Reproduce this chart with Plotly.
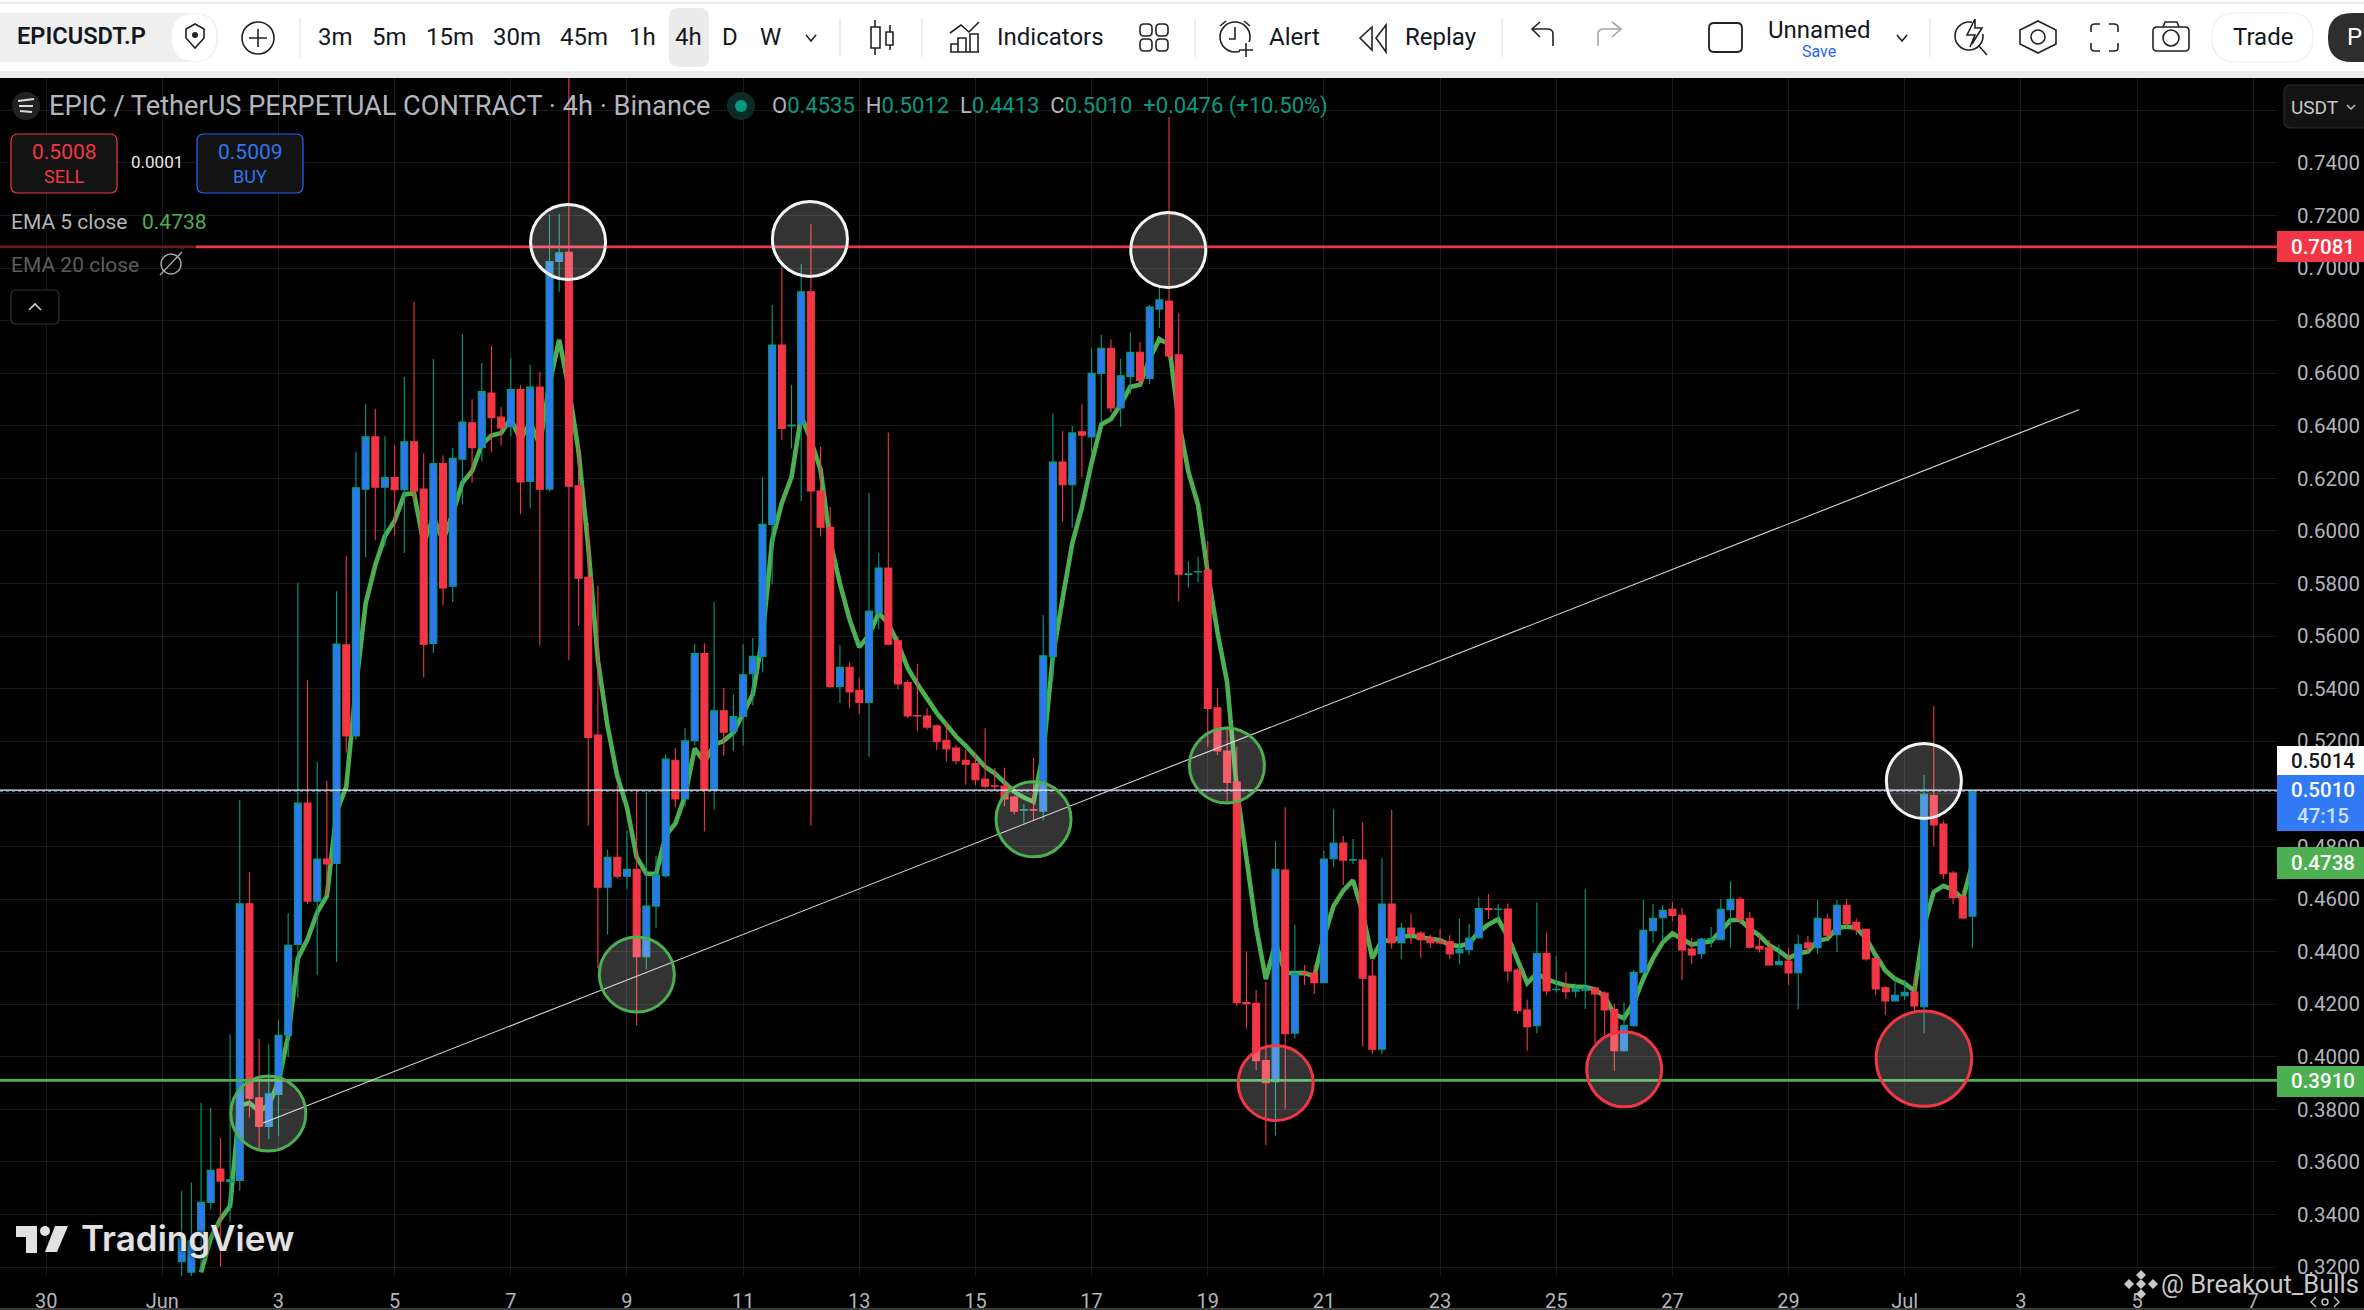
import pandas as pd
import plotly.graph_objects as go

# chart values
open_prices = [
    .322, .318, .333, .3446, .3573, .3525, .3529, .4582, .3844, .3735,
    .3857, .4082, .4427, .4965, .4592, .4752, .4735, .5567, .5220, .6159,
    .6358, .6166, .6203, .6157, .6339, .6159, .5572, .6256, .5790, .6273,
    .6411, .6317, .6525, .6433, .6397, .6538, .6188, .6547, .6159, .7025,
    .7060, .6172, .5824, .5224, .4645, .4759, .4687, .4713, .4381, .4573,
    .4689, .5128, .4981, .5202, .5534, .5016, .5316, .5237, .5294, .5457,
    .5523, .6025, .6707, .6399, .6407, .6910, .6152, .6014, .5409, .5481,
    .5394, .5348, .5689, .5859, .5582, .5423, .5298, .5296, .5259, .5204,
    .5174, .5128, .5115, .5056, .5031, .5030, .4988, .4938, .4940, .4934,
    .5522, .6262, .6176, .6377, .6358, .6599, .6695, .6468, .6588, .6680,
    .6580, .6844, .6875, .6670, .5835, .5844, .5851, .5327, .5163, .5045,
    .4206, .4203, .3986, .3905, .4710, .4090, .4320, .4317, .4282, .4753,
    .4813, .4748, .4748, .4307, .4029, .4581, .4434, .4490, .4471, .4452,
    .4438, .4438, .4396, .4407, .4453, .4564, .4560, .4562, .4330, .4178,
    .4118, .4393, .4255, .4261, .4249, .4253, .4261, .4242, .4180, .4023,
    .4118, .4321, .4479, .4529, .4561, .4538, .4410, .4392, .4448, .4445,
    .4559, .4599, .4527, .4420, .4414, .4350, .4364, .4320, .4433, .4415,
    .4524, .4464, .4576, .4511, .4485, .4374, .4262, .4212, .4232, .4246,
    .4190, .4994, .4885, .4699, .4608, .4535,
]
high_prices = [
    .3489, .3522, .3825, .3806, .3692, .4087, .4977, .4703, .4068, .4048,
    .4140, .4546, .5802, .5434, .5121, .5050, .5771, .5904, .6300, .6484,
    .6465, .6360, .6326, .6586, .6872, .6295, .6654, .6288, .6317, .6749,
    .6501, .6639, .6705, .6472, .6659, .6555, .6632, .6606, .7205, .7207,
    .7800, .6331, .6030, .5792, .4787, .5032, .4861, .5014, .5010, .4765,
    .5152, .5174, .5250, .5571, .5573, .5730, .5403, .5377, .5569, .5593,
    .6204, .6860, .7001, .6556, .7015, .7167, .6320, .6091, .5567, .5501,
    .5442, .6145, .5916, .6375, .5599, .5434, .5495, .5326, .5263, .5276,
    .5185, .5167, .5152, .5250, .5097, .5099, .4994, .4961, .5136, .5680,
    .6446, .6380, .6400, .6482, .6695, .6746, .6728, .6655, .6755, .6719,
    .6860, .6932, .7575, .6828, .5885, .5902, .5962, .5403, .5258, .5179,
    .4400, .4254, .4286, .4821, .4949, .4501, .4349, .4349, .4783, .4941,
    .4840, .4828, .4893, .4368, .4756, .4939, .4510, .4543, .4476, .4463,
    .4486, .4463, .4526, .4505, .4606, .4619, .4581, .4584, .4336, .4218,
    .4587, .4473, .4383, .4321, .4279, .4638, .4261, .4249, .4203, .4206,
    .4330, .4596, .4581, .4577, .4589, .4565, .4453, .4454, .4494, .4600,
    .4668, .4609, .4551, .4463, .4444, .4425, .4415, .4463, .4459, .4596,
    .4543, .4596, .4600, .4526, .4487, .4376, .4269, .4307, .4292, .4307,
    .5072, .5334, .4899, .4707, .4634, .5012,
]
low_prices = [
    .314, .314, .318, .3419, .3201, .3372, .3490, .3769, .3650, .3687,
    .3699, .3999, .4223, .4582, .4310, .4613, .4359, .5157, .5208, .5900,
    .5965, .5941, .5984, .5916, .6118, .5443, .5536, .5717, .5730, .6101,
    .6183, .6264, .6300, .6324, .6360, .6064, .6086, .5564, .6150, .6910,
    .5508, .5639, .4879, .4337, .4464, .4678, .4639, .4119, .4333, .4490,
    .4682, .4949, .4955, .5184, .4857, .4940, .5145, .5163, .5184, .5337,
    .5462, .5796, .6346, .6314, .6113, .4879, .5979, .5403, .5346, .5326,
    .5305, .5141, .5626, .5565, .5398, .5289, .5239, .5244, .5167, .5123,
    .5112, .5036, .5032, .5021, .5014, .4952, .4921, .4888, .4897, .4899,
    .5430, .6036, .6013, .6204, .6295, .6413, .6450, .6395, .6522, .6559,
    .6559, .6772, .6650, .5731, .5785, .5804, .5179, .5148, .4970, .4193,
    .4107, .3949, .3664, .3700, .3802, .4069, .4273, .4239, .4279, .4723,
    .4653, .4733, .4041, .4010, .4010, .4410, .4372, .4429, .4377, .4414,
    .4427, .4372, .4351, .4388, .4450, .4524, .4520, .4286, .4163, .4023,
    .4088, .4235, .4244, .4220, .4225, .4182, .4051, .4083, .3946, .4019,
    .4114, .4317, .4434, .4438, .4514, .4292, .4353, .4372, .4416, .4444,
    .4415, .4505, .4412, .4397, .4349, .4349, .4273, .4182, .4396, .4391,
    .4449, .4398, .4490, .4463, .4365, .4235, .4159, .4209, .4216, .4171,
    .4089, .4802, .4676, .4581, .4524, .4413,
]
close_prices = [
    .331, .330, .3446, .3568, .3527, .3532, .4582, .3842, .3735, .3859,
    .4082, .4424, .4965, .4592, .4752, .4733, .5570, .5220, .6164, .6358,
    .6166, .6203, .6157, .6339, .6152, .5569, .6256, .5783, .6276, .6414,
    .6317, .6530, .6431, .6392, .6538, .6186, .6547, .6159, .7025, .7058,
    .6170, .5820, .5215, .4645, .4759, .4687, .4713, .4381, .4573, .4691,
    .5132, .4981, .5202, .5534, .5016, .5316, .5235, .5294, .5453, .5523,
    .6025, .6707, .6390, .6403, .6910, .6152, .6014, .5409, .5481, .5388,
    .5348, .5695, .5859, .5569, .5418, .5296, .5296, .5254, .5198, .5171,
    .5126, .5113, .5054, .5029, .5029, .4981, .4934, .4940, .4938, .5525,
    .6262, .6176, .6373, .6364, .6600, .6695, .6468, .6590, .6680, .6573,
    .6852, .6879, .6666, .5836, .5837, .5846, .5325, .5163, .5043, .4206,
    .4202, .3985, .3901, .4713, .4088, .4317, .4318, .4282, .4752, .4813,
    .4748, .4750, .4299, .4029, .4581, .4434, .4490, .4468, .4445, .4434,
    .4433, .4391, .4409, .4451, .4564, .4560, .4562, .4326, .4175, .4114,
    .4393, .4250, .4257, .4247, .4259, .4261, .4239, .4178, .4023, .4119,
    .4321, .4481, .4527, .4557, .4537, .4406, .4387, .4448, .4450, .4561,
    .4599, .4524, .4417, .4410, .4349, .4362, .4319, .4428, .4414, .4527,
    .4462, .4576, .4507, .4483, .4372, .4258, .4212, .4234, .4245, .4193,
    .4998, .4882, .4696, .4605, .4528, .5010,
]
# first two bars are hidden under the logo, the line starts at the third one
ema_values = [
    None, None, .318, .3309, .3382, .3432, .3815, .3824, .3794, .3816,
    .3905, .4078, .4374, .4447, .4549, .4611, .4931, .5027, .5406, .5723,
    .5870, .5981, .6039, .6139, .6144, .5952, .6053, .5963, .6067, .6183,
    .6228, .6329, .6363, .6373, .6428, .6347, .6413, .6328, .6561, .6727,
    .6542, .6301, .5939, .5507, .5257, .5067, .4949, .4759, .4697, .4695,
    .4841, .4887, .4992, .5173, .5121, .5186, .5202, .5233, .5307, .5379,
    .5594, .5965, .6107, .6205, .6440, .6344, .6234, .5959, .5800, .5663,
    .5558, .5603, .5688, .5648, .5571, .5479, .5418, .5363, .5308, .5263,
    .5218, .5183, .5140, .5103, .5078, .5045, .5008, .4986, .4970, .5155,
    .5524, .5742, .5952, .6089, .6259, .6405, .6426, .6481, .6548, .6556,
    .6655, .6730, .6709, .6418, .6225, .6099, .5841, .5615, .5424, .5018,
    .4746, .4492, .4295, .4434, .4319, .4318, .4318, .4306, .4455, .4574,
    .4632, .4671, .4547, .4374, .4443, .4440, .4457, .4460, .4455, .4448,
    .4443, .4426, .4421, .4431, .4475, .4503, .4523, .4457, .4363, .4280,
    .4317, .4295, .4282, .4271, .4267, .4265, .4256, .4230, .4161, .4147,
    .4205, .4297, .4374, .4435, .4469, .4448, .4427, .4434, .4439, .4479,
    .4519, .4521, .4486, .4461, .4424, .4403, .4375, .4393, .4400, .4442,
    .4448, .4490, .4495, .4491, .4451, .4386, .4328, .4296, .4279, .4251,
    .4500, .4627, .4650, .4635, .4599, .4736,
]

y_tick_values = [.32, .34, .36, .38, .40, .42, .44, .46, .48, .50, .52, .54,
                 .56, .58, .60, .62, .64, .66, .68, .70, .72, .74, .76]
y_tick_labels = ["0.3200", "0.3400", "0.3600", "0.3800", "0.4000", "0.4200", "0.4400", "0.4600",
                 "0.4800", "0.5000", "0.5200", "0.5400", "0.5600", "0.5800", "0.6000", "0.6200",
                 "0.6400", "0.6600", "0.6800", "0.7000", "0.7200", "0.7400", ""]
x_tick_days = [-2, 0, 2, 4, 6, 8, 10, 12, 14, 16, 18, 20, 22, 24, 26, 28, 30, 32, 34, 36]
x_tick_labels = ["30", "Jun", "3", "5", "7", "9", "11", "13", "15", "17", "19", "21", "23", "25",
                 "27", "29", "Jul", "3", "5", "7"]

resistance = 0.7081
support = 0.3910
last_price = 0.5010
crosshair_price = 0.5014
trend_days = [1.734, 33.0]
trend_prices = [0.3748, 0.6461]

# circles drawn on the chart: day since Jun 1, price
white_circles = [(6.986, .7099), (11.15, .7111), (17.32, .7069), (30.33, .5049)]
green_circles = [(1.825, .3784), (8.17, .4313), (15.0, .4903), (18.33, .5108)]
red_circles = [(19.17, .3900), (25.17, .3952)]
big_red_circle = (30.33, .3993)

W, H = 2364, 1310
PLOT_L, PLOT_R, PLOT_T, PLOT_B = 0, 2277, 78, 1276
RED = "#f23645"
TEAL = "#089981"
BLUE = "#2e77f2"
GREEN = "#4caf50"
TXT = "#b2b5be"
FONT = "Roboto"

base = pd.Timestamp("2024-06-01")
times = pd.date_range("2024-06-01 08:00", periods=len(close_prices), freq="4h")


def day(d):
    return str(base + pd.Timedelta(days=d))


def px(x):
    return (x - PLOT_L) / (PLOT_R - PLOT_L)


def py(y):
    return (PLOT_B - y) / (PLOT_B - PLOT_T)


def px_path(d):
    # svg path written in screen pixels, turned into paper coordinates
    out = []
    is_x = True
    for tok in d.split():
        if tok.isalpha():
            out.append(tok)
        else:
            out.append(str(px(float(tok))) if is_x else str(py(float(tok))))
            is_x = not is_x
    return " ".join(out)


shapes = []
labels = []


def path(d, color="#222222", width=1.6, fill=None):
    shapes.append(dict(type="path", path=px_path(d), xref="paper", yref="paper", layer="above",
                       line=dict(color=color, width=width), fillcolor=fill or "rgba(0,0,0,0)"))


def box(x0, y0, x1, y1, fill, line=None, width=1):
    shapes.append(dict(type="rect", xref="paper", yref="paper", layer="above",
                       x0=px(x0), x1=px(x1), y0=py(y1), y1=py(y0), fillcolor=fill,
                       line=dict(color=line or fill, width=width if line else 0)))


def round_box(x0, y0, x1, y1, r, fill, line=None, width=1):
    d = (f"M {x0+r} {y0} L {x1-r} {y0} Q {x1} {y0} {x1} {y0+r} L {x1} {y1-r} Q {x1} {y1} {x1-r} {y1} "
         f"L {x0+r} {y1} Q {x0} {y1} {x0} {y1-r} L {x0} {y0+r} Q {x0} {y0} {x0+r} {y0} Z")
    shapes.append(dict(type="path", path=px_path(d), xref="paper", yref="paper", layer="above",
                       line=dict(color=line or fill, width=width if line else 0), fillcolor=fill))


def dot(x, y, r, fill="rgba(0,0,0,0)", line=None, width=1.6):
    shapes.append(dict(type="circle", xref="paper", yref="paper", layer="above",
                       x0=px(x - r), x1=px(x + r), y0=py(y + r), y1=py(y - r), fillcolor=fill,
                       line=dict(color=line or fill, width=width if line else 0)))


def text(x, y, s, size, color, anchor="left", weight=None, shadow=None, font=FONT):
    labels.append(dict(x=px(x), y=py(y), xref="paper", yref="paper", text=s, showarrow=False,
                       xanchor=anchor, yanchor="middle", borderpad=0,
                       font=dict(family=font, size=size, color=color, weight=weight,
                                 shadow=shadow or "none")))


def chart_circle(center, color, rx=37.5, ry=37.5):
    d, price = center
    dx = rx / 58.07
    dy = ry / 2628.6
    shapes.append(dict(type="circle", xref="x", yref="y", layer="above",
                       x0=day(d - dx), x1=day(d + dx), y0=price - dy, y1=price + dy,
                       fillcolor="rgba(255,255,255,0.2)", line=dict(color=color, width=3)))


def chart_level(price, color, width, dash="solid"):
    shapes.append(dict(type="line", xref="paper", yref="y", layer="above", x0=0, x1=1, y0=price, y1=price,
                       line=dict(color=color, width=width, dash=dash)))


# levels and trend line
chart_level(resistance, RED, 2.8)
chart_level(support, GREEN, 2.8)
chart_level(last_price, "#5b8df5", 1.2, "dot")
chart_level(crosshair_price, "#f0f0f0", 1.2)
box(0, 245, 196, 249, "rgba(0,0,0,0.55)")
shapes.append(dict(type="line", xref="x", yref="y", layer="above", x0=day(trend_days[0]), x1=day(trend_days[1]),
                   y0=trend_prices[0], y1=trend_prices[1], line=dict(color="#d8d8d8", width=1.1)))
for c in white_circles:
    chart_circle(c, "#f4f4f4")
for c in green_circles:
    chart_circle(c, GREEN)
for c in red_circles:
    chart_circle(c, RED)
chart_circle(big_red_circle, RED, 47.7, 47.7)

# toolbar
box(0, 0, W, 71, "#ffffff")
box(0, 2, W, 4, "#f3e6f5")
box(0, 71, W, 78, "#ebebeb")
round_box(-30, 13, 218, 62, 24, "#efefef")
round_box(172, 14, 216, 61, 22, "#ffffff")
path("M 186 29 L 195 24 L 204 29 L 204 38 L 195 48 L 186 38 Z", "#222222", 1.6)
dot(195, 35, 3, "#222222")
text(16, 36, "EPICUSDT.P", 23.6, "#131722", weight=600)
dot(258, 38, 16, line="#222222")
path("M 258 29 L 258 47 M 249 38 L 267 38")
for sx in [300, 840, 922, 1195, 1502, 1930]:
    path(f"M {sx} 18 L {sx} 57", "#e3e3e3", 1.2)
round_box(669, 8, 709, 67, 9, "#ececec")
for tx, s in zip([335, 389, 450, 517, 584, 642, 688, 730, 770],
                 ["3m", "5m", "15m", "30m", "45m", "1h", "4h", "D", "W"]):
    text(tx, 37, s, 24, "#131722", "center")
path("M 806 35 L 811 41 L 816 35")
path("M 875 20 L 875 27 M 875 48 L 875 55 M 890 25 L 890 32 M 890 45 L 890 50 "
     "M 871 27 L 880 27 L 880 48 L 871 48 Z M 886 32 L 893 32 L 893 45 L 886 45 Z")
path("M 950 33 L 961 25 L 969 32 L 979 22 M 950 52 L 979 52 M 951 52 L 951 44 L 958 44 L 958 52 "
     "M 958 52 L 958 38 L 966 38 L 966 52 M 970 52 L 970 34 L 978 34 L 978 52")
text(996, 37, "Indicators", 24, "#131722")
round_box(1140, 24, 1152, 36, 4, "#ffffff", "#222222", 1.6)
round_box(1156, 24, 1168, 36, 4, "#ffffff", "#222222", 1.6)
round_box(1140, 39, 1152, 51, 4, "#ffffff", "#222222", 1.6)
round_box(1156, 39, 1168, 51, 4, "#ffffff", "#222222", 1.6)
dot(1235, 37, 15, line="#222222")
box(1240, 42, 1258, 58, "#ffffff")
path("M 1235 27 L 1235 39 L 1229 39 M 1246 43 L 1246 57 M 1239 50 L 1253 50 M 1220 26 L 1226 21 M 1244 21 L 1250 26")
text(1268, 37, "Alert", 24, "#131722")
path("M 1372 27 L 1360 38 L 1372 50 Z M 1386 25 L 1376 38 L 1386 52 Z")
text(1404, 37, "Replay", 24, "#131722")
path("M 1553 46 L 1553 34 Q 1553 29 1547 29 L 1532 29 M 1540 22 L 1532 29 L 1540 37")
path("M 1598 46 L 1598 34 Q 1598 29 1604 29 L 1621 29 M 1612 22 L 1621 29 L 1612 37", "#a5a5a5")
round_box(1709, 23, 1742, 52, 5, "#ffffff", "#222222", 1.8)
text(1819, 30, "Unnamed", 24, "#131722", "center")
text(1819, 51, "Save", 16, "#2962ff", "center")
path("M 1897 35 L 1902 41 L 1907 35")
dot(1969, 36, 14, line="#222222")
box(1972, 16, 1988, 34, "#ffffff")
path("M 1975 19 L 1967 35 L 1975 35 L 1970 47 M 1975 19 L 1975 28 L 1982 28 L 1972 44 M 1979 46 L 1987 55")
path("M 2038 21 L 2056 30 L 2056 44 L 2038 53 L 2020 44 L 2020 30 Z")
dot(2038, 37, 7, line="#222222")
path("M 2091 32 L 2091 27 Q 2091 24 2095 24 L 2100 24 M 2109 24 L 2114 24 Q 2118 24 2118 27 L 2118 32 "
     "M 2118 43 L 2118 48 Q 2118 51 2114 51 L 2109 51 M 2100 51 L 2095 51 Q 2091 51 2091 48 L 2091 43")
round_box(2153, 27, 2189, 51, 4, "#ffffff", "#222222", 1.6)
path("M 2163 27 L 2165 22 L 2177 22 L 2179 27")
dot(2171, 38, 8, line="#222222")
round_box(2212, 13, 2313, 62, 24, "#ffffff", "#eeeeee", 1.2)
text(2263, 37, "Trade", 24, "#131722", "center")
round_box(2328, 13, 2400, 62, 24, "#2e2e2e")
text(2346, 37, "P", 24, "#ffffff")

# symbol legend
dot(26, 106, 14, "#222222")
path("M 18 101 L 34 99 M 19 106 L 33 106 M 20 111 L 32 112", "#dddddd", 1.8)
text(48, 106, "EPIC / TetherUS PERPETUAL CONTRACT · 4h · Binance", 27.2, TXT)
dot(741, 106, 14, "#0b2c26")
dot(741, 106, 6, TEAL)
text(771, 106,
     f'O<span style="color:{TEAL}">0.4535</span>&nbsp;&nbsp;H<span style="color:{TEAL}">0.5012</span>&nbsp;&nbsp;'
     f'L<span style="color:{TEAL}">0.4413</span>&nbsp;&nbsp;C<span style="color:{TEAL}">0.5010</span>&nbsp;&nbsp;'
     f'<span style="color:{TEAL}">+0.0476 (+10.50%)</span>', 22, TXT)
round_box(11, 134, 117, 193, 7, "#131313", RED, 1.2)
text(64, 152, "0.5008", 21, RED, "center")
text(64, 176, "SELL", 18, RED, "center")
text(157, 162, "0.0001", 17, "#e8e8e8", "center")
round_box(197, 134, 303, 193, 7, "#131313", "#2962ff", 1.2)
text(250, 152, "0.5009", 21, "#2e77f2", "center")
text(250, 176, "BUY", 18, "#2e77f2", "center")
text(10, 222, "EMA 5 close", 21, TXT)
text(141, 222, "0.4738", 21, GREEN)
text(10, 265, "EMA 20 close", 21, "#5c5c5c")
dot(171, 264, 10, line="#a8a8a8", width=1.4)
path("M 160 275 L 182 252", "#a8a8a8", 1.4)
round_box(11, 290, 59, 324, 5, "#000000", "#333333", 1.2)
path("M 29 310 L 35 304 L 41 310", "#d0d0d0", 1.6)

# usdt button
round_box(2284, 85, 2375, 128, 7, "#131313", "#2a2a2a", 1.2)
text(2314, 107, "USDT", 19, "#c8c8cc", "center")
path("M 2347 105 L 2351 109 L 2355 105", "#c8c8cc", 1.4)

# price tags
box(PLOT_R, 231, W, 262, RED)
text(2323, 247, "0.7081", 20.5, "#ffffff", "center", weight=500)
box(PLOT_R, 746, W, 775, "#ffffff")
text(2323, 761, "0.5014", 20.5, "#131722", "center", weight=500)
box(PLOT_R, 775, W, 831, "#3179f5")
text(2323, 790, "0.5010", 20.5, "#ffffff", "center", weight=500)
text(2323, 816, "47:15", 20.5, "#cfe0fd", "center", weight=500)
box(PLOT_R, 847, W, 879, GREEN)
text(2323, 863, "0.4738", 20.5, "#ffffff", "center", weight=500)
box(PLOT_R, 1066, W, 1097, GREEN)
text(2323, 1081, "0.3910", 20.5, "#ffffff", "center", weight=500)

# tradingview logo
LOGO = "#e2e2e2"
path("M 16 1226 L 37 1226 L 37 1253 L 26 1253 L 26 1237 L 16 1237 Z", LOGO, 0, LOGO)
dot(45, 1231, 5, LOGO)
path("M 55 1226 L 68 1226 L 57 1252 L 45 1252 Z", LOGO, 0, LOGO)
text(80, 1238, "TradingView", 35, LOGO, weight=600, shadow="0 0 4px #111111", font="Inter")

# watermark
path("M 2141 1270 L 2146 1275 L 2141 1280 L 2136 1275 Z M 2129 1279 L 2134 1284 L 2129 1289 L 2124 1284 Z "
     "M 2153 1279 L 2158 1284 L 2153 1289 L 2148 1284 Z M 2141 1279 L 2146 1284 L 2141 1289 L 2136 1284 Z "
     "M 2141 1289 L 2146 1294 L 2141 1299 L 2136 1294 Z", "#c8c8c8", 0, "#c8c8c8")
text(2160, 1284, "@ Breakout_Bulls", 25.5, "#c8c8c8")
path("M 2316 1297 L 2311 1302 L 2316 1307 M 2334 1297 L 2339 1302 L 2334 1307", "#c8c8c8", 1.4)
dot(2325, 1302, 3, line="#c8c8c8", width=1.4)
box(0, 1308, W, 1310, "#3a3a3a")

fig = go.Figure()
# ema sits on the main axes, candles on an overlay so they stay in front of the line
fig.add_trace(go.Scatter(x=times, y=ema_values, mode="lines", line=dict(color=GREEN, width=4.6),
                         connectgaps=False, hoverinfo="skip", showlegend=False))
fig.add_trace(go.Candlestick(x=times, open=open_prices, high=high_prices, low=low_prices, close=close_prices,
                             xaxis="x2", yaxis="y2", showlegend=False, whiskerwidth=0,
                             increasing=dict(line=dict(color=TEAL, width=1.1), fillcolor=BLUE),
                             decreasing=dict(line=dict(color=RED, width=1.1), fillcolor=RED)))

x_range = [day(-2.795), day(36.41)]
y_range = [0.3166, 0.7723]
fig.update_layout(
    width=W, height=H, autosize=False,
    margin=dict(l=PLOT_L, r=W - PLOT_R, t=PLOT_T, b=H - PLOT_B, pad=0),
    paper_bgcolor="#000000", plot_bgcolor="#000000",
    boxgap=0.28, boxgroupgap=0, showlegend=False, hovermode=False,
    font=dict(family=FONT, color=TXT),
    shapes=shapes, annotations=labels,
    xaxis=dict(type="date", range=x_range, tickmode="array", automargin=False,
               tickvals=[day(d) for d in x_tick_days], ticktext=x_tick_labels,
               gridcolor="#191919", gridwidth=1, showline=False, zeroline=False,
               ticks="outside", ticklen=7, tickcolor="rgba(0,0,0,0)",
               tickfont=dict(size=20, color=TXT), rangeslider=dict(visible=False)),
    yaxis=dict(range=y_range, side="right", tickmode="array", automargin=False,
               tickvals=y_tick_values, ticktext=y_tick_labels,
               gridcolor="#191919", gridwidth=1, showline=False, zeroline=False,
               ticks="outside", ticklen=15, tickcolor="rgba(0,0,0,0)",
               tickfont=dict(size=20.5, color=TXT)),
    xaxis2=dict(type="date", range=x_range, overlaying="x", visible=False, automargin=False,
                rangeslider=dict(visible=False)),
    yaxis2=dict(range=y_range, overlaying="y", visible=False, automargin=False),
)

# the page keeps the browser's default body margin otherwise
fig.write_html("out.html", config=dict(displayModeBar=False),
               post_script="document.body.style.margin='0';document.body.style.overflow='hidden';")
